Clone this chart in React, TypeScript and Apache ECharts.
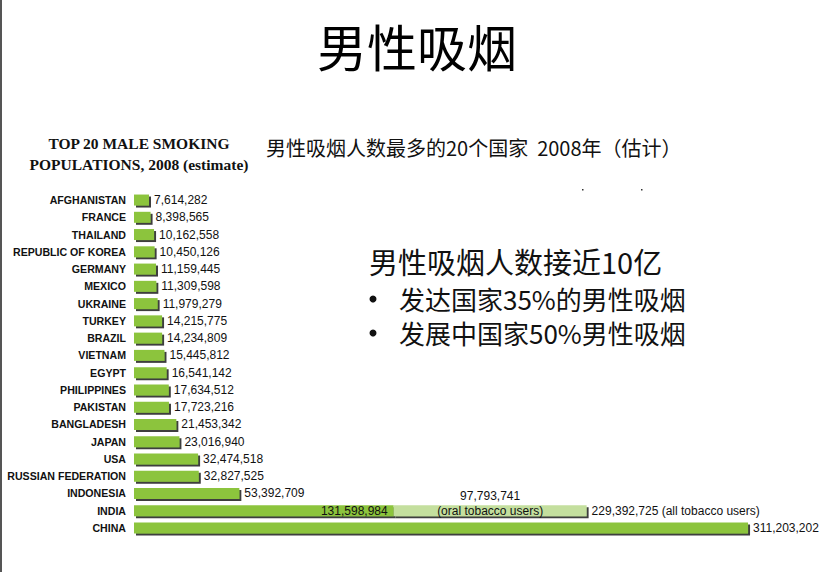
import React, { useEffect, useRef } from "react";
import * as echarts from "echarts";

const countries = [
  "AFGHANISTAN", "FRANCE", "THAILAND", "REPUBLIC OF KOREA", "GERMANY", "MEXICO",
  "UKRAINE", "TURKEY", "BRAZIL", "VIETNAM", "EGYPT", "PHILIPPINES", "PAKISTAN",
  "BANGLADESH", "JAPAN", "USA", "RUSSIAN FEDERATION", "INDONESIA", "INDIA", "CHINA",
];
const smokers = [
  7614282, 8398565, 10162558, 10450126, 11159445, 11309598, 11979279, 14215775,
  14234809, 15445812, 16541142, 17634512, 17723216, 21453342, 23016940, 32474518,
  32827525, 53392709, 131598984, 311203202,
];
const oralCountry = "INDIA";
const oralTobaccoUsers = 97793741;

const mainTitle = "男性吸烟";
const leftTitle = ["TOP 20 MALE SMOKING", "POPULATIONS, 2008 (estimate)"];
const subTitle = "男性吸烟人数最多的20个国家  2008年（估计）";
const headline = "男性吸烟人数接近10亿";
const bullets = ["发达国家35%的男性吸烟", "发展中国家50%男性吸烟"];

const fmt = (v: number) => v.toLocaleString("en-US");

export default function App() {
  const ref = useRef<HTMLDivElement>(null);
  useEffect(() => {
    if (!ref.current) return;
    const chart = echarts.init(ref.current, null, { renderer: "svg" });
    const oralIdx = countries.indexOf(oralCountry);
    const total = smokers[oralIdx] + oralTobaccoUsers;
    const green = "#8cc43e";
    const light = "#c4df9e";
    const shadow = {
      shadowColor: "rgba(40,40,40,0.9)",
      shadowOffsetX: 2,
      shadowOffsetY: 2,
      shadowBlur: 0,
    };
    const valueFont = { fontFamily: "Liberation Sans, Arial, sans-serif", fontSize: 12, color: "#111" };
    const cjk = "'Noto Sans CJK SC', sans-serif";

    chart.setOption({
      animation: false,
      backgroundColor: "#fff",
      grid: { left: 134, top: 191.4, height: 345.2, width: 631.4, containLabel: false },
      xAxis: { type: "value", min: 0, max: 320000000, show: false },
      yAxis: {
        type: "category",
        data: countries,
        inverse: true,
        axisLine: { show: false },
        axisTick: { show: false },
        axisLabel: {
          margin: 8,
          fontFamily: "Liberation Sans, Arial, sans-serif",
          fontWeight: "bold",
          fontSize: 10.6,
          color: "#111",
        },
      },
      series: [
        {
          type: "bar",
          stack: "s",
          barWidth: 11,
          itemStyle: { color: green, ...shadow },
          label: {
            show: true,
            position: "right",
            distance: 5,
            ...valueFont,
            formatter: (p: any) => fmt(p.value),
          },
          data: smokers.map((v, i) =>
            i === oralIdx
              ? { value: v, label: { position: "insideRight", distance: 6 } }
              : v
          ),
        },
        {
          type: "bar",
          stack: "s",
          barWidth: 11,
          itemStyle: { color: light, ...shadow },
          label: {
            show: true,
            position: "inside",
            offset: [0, -7.5],
            ...valueFont,
            formatter: (p: any) => `{a|${fmt(p.value)}}\n{b|(oral tobacco users)}`,
            rich: {
              a: { ...valueFont, lineHeight: 15 },
              b: { ...valueFont, lineHeight: 15 },
            },
          },
          data: countries.map((c) => (c === oralCountry ? oralTobaccoUsers : "-")),
        },
        {
          type: "bar",
          stack: "s",
          barWidth: 11,
          itemStyle: { color: "transparent" },
          label: {
            show: true,
            position: "right",
            distance: 5,
            ...valueFont,
            formatter: () => `${fmt(total)} (all tobacco users)`,
          },
          data: countries.map((c) => (c === oralCountry ? 0 : "-")),
        },
      ],
      graphic: [
        { type: "rect", left: 0, top: 0, shape: { width: 2, height: 572 }, style: { fill: "#555" } },
        {
          type: "text",
          x: 417, y: 45,
          style: {
            text: mainTitle,
            font: `50px ${cjk}`,
            fill: "#000",
            align: "center",
            verticalAlign: "middle",
          },
        },
        ...leftTitle.map((t, i) => ({
          type: "text",
          x: 139, y: 143 + i * 21,
          style: {
            text: t,
            font: "bold 15.5px 'Liberation Serif', serif",
            fill: "#111",
            align: "center",
            verticalAlign: "middle",
          },
        })),
        {
          type: "text",
          x: 266, y: 147,
          style: {
            text: subTitle,
            font: `20px ${cjk}`,
            fill: "#111",
            align: "left",
            verticalAlign: "middle",
          },
        },
        {
          type: "text",
          x: 369, y: 261,
          style: {
            text: headline,
            font: `29px ${cjk}`,
            fill: "#111",
            align: "left",
            verticalAlign: "middle",
          },
        },
        ...bullets.flatMap((b, i) => [
          { type: "circle", shape: { cx: 373, cy: 299 + i * 34, r: 3.5 }, style: { fill: "#111" } },
          {
            type: "text",
            x: 399, y: 298 + i * 34,
            style: {
              text: b,
              font: `26px ${cjk}`,
              fill: "#111",
              align: "left",
              verticalAlign: "middle",
            },
          },
        ]),
        { type: "rect", shape: { x: 582, y: 189, width: 1.5, height: 1.5 }, style: { fill: "#333" } },
        { type: "rect", shape: { x: 641, y: 189, width: 1.5, height: 1.5 }, style: { fill: "#333" } },
      ],
    });
    return () => chart.dispose();
  }, []);
  return (
    <div
      ref={ref}
      style={{ position: "absolute", left: 0, top: 0, width: 826, height: 572 }}
    />
  );
}
